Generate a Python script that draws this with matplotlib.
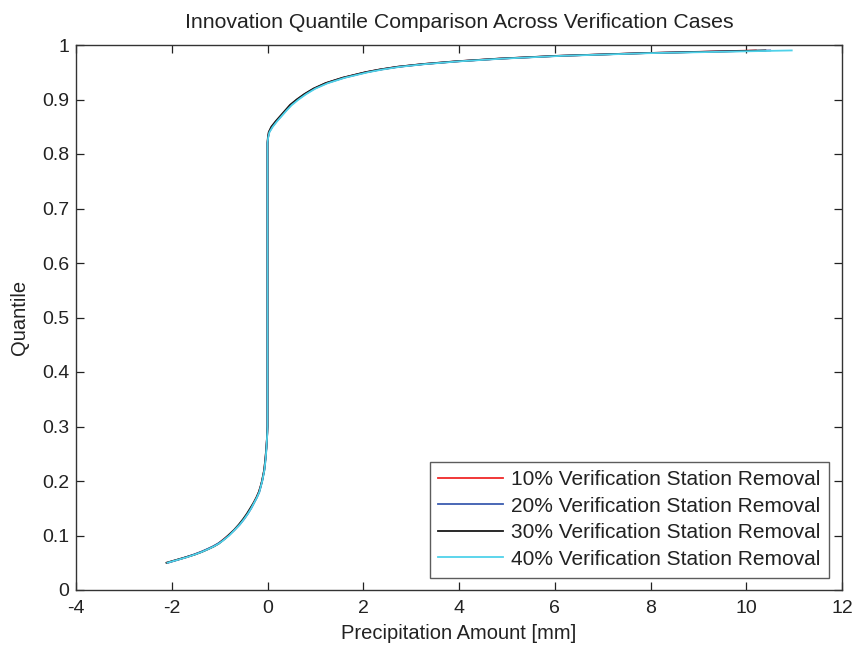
import matplotlib
matplotlib.use("Agg")
import matplotlib.pyplot as plt

plt.rcParams['font.family'] = ['Liberation Sans', 'DejaVu Sans']
plt.rcParams['axes.unicode_minus'] = False

quantiles = [0.05, 0.055, 0.06, 0.065, 0.07, 0.075, 0.08, 0.085, 0.09, 0.095, 0.10,
             0.11, 0.12, 0.13, 0.14, 0.15, 0.16, 0.17, 0.18, 0.19, 0.20, 0.22,
             0.24, 0.26, 0.28, 0.29, 0.30, 0.80, 0.82, 0.83, 0.84, 0.85, 0.86,
             0.87, 0.88, 0.89, 0.90, 0.91, 0.92, 0.93, 0.94, 0.95, 0.955, 0.96,
             0.965, 0.97, 0.975, 0.98, 0.985, 0.99]

x_10 = [-2.10, -1.90, -1.70, -1.53, -1.38, -1.25, -1.13, -1.03, -0.96, -0.89, -0.82,
        -0.70, -0.59, -0.50, -0.42, -0.35, -0.29, -0.23, -0.18, -0.145, -0.115, -0.07,
        -0.045, -0.025, -0.010, -0.004, 0.0, 0.0, 0.0, 0.010, 0.030, 0.09, 0.18,
        0.28, 0.38, 0.48, 0.62, 0.78, 0.97, 1.22, 1.58, 2.05, 2.35, 2.72,
        3.25, 3.95, 4.85, 6.05, 7.80, 10.20]
x_20 = [-2.08, -1.89, -1.71, -1.54, -1.39, -1.26, -1.14, -1.04, -0.95, -0.88, -0.81,
        -0.69, -0.58, -0.49, -0.41, -0.34, -0.28, -0.22, -0.17, -0.140, -0.110, -0.065,
        -0.040, -0.022, -0.009, -0.004, 0.0, 0.0, 0.0, 0.012, 0.035, 0.10, 0.19,
        0.29, 0.39, 0.49, 0.63, 0.79, 0.98, 1.24, 1.60, 2.07, 2.37, 2.74,
        3.28, 3.98, 4.88, 6.08, 7.85, 10.50]
x_30 = [-2.11, -1.91, -1.71, -1.52, -1.37, -1.24, -1.12, -1.02, -0.95, -0.88, -0.82,
        -0.70, -0.60, -0.51, -0.43, -0.36, -0.29, -0.23, -0.18, -0.145, -0.115, -0.07,
        -0.045, -0.025, -0.010, -0.005, 0.0, 0.0, 0.0, 0.008, 0.025, 0.08, 0.17,
        0.27, 0.37, 0.47, 0.61, 0.77, 0.96, 1.21, 1.57, 2.04, 2.34, 2.71,
        3.24, 3.93, 4.83, 6.03, 7.82, 10.40]
x_40 = [-2.09, -1.89, -1.69, -1.52, -1.37, -1.24, -1.12, -1.02, -0.94, -0.87, -0.80,
        -0.69, -0.58, -0.49, -0.41, -0.34, -0.28, -0.22, -0.17, -0.140, -0.110, -0.065,
        -0.040, -0.022, -0.009, -0.003, 0.0, 0.0, 0.0, 0.014, 0.040, 0.11, 0.20,
        0.30, 0.40, 0.51, 0.65, 0.81, 1.00, 1.26, 1.62, 2.10, 2.40, 2.77,
        3.30, 4.00, 4.92, 6.12, 7.95, 10.95]

labels = ['10% Verification Station Removal', '20% Verification Station Removal',
          '30% Verification Station Removal', '40% Verification Station Removal']
colors = ['#f02828', '#3a5cb0', '#181818', '#4fd2ea']
series = [x_10, x_20, x_30, x_40]
widths = [1.3, 1.3, 1.3, 1.3]

fig = plt.figure(figsize=(8.56, 6.45), dpi=100)
ax = fig.add_axes([76/856, 1 - 590/645, (842-76)/856, (590-45)/645])

for xs, c, lab, lw in zip(series, colors, labels, widths):
    ax.plot(xs, quantiles, color=c, lw=lw, label=lab)

ax.set_xlim(-4, 12)
ax.set_ylim(0, 1)
ax.set_xticks(range(-4, 13, 2))
ax.set_yticks([i / 10 for i in range(11)])
ax.set_yticklabels(['0', '0.1', '0.2', '0.3', '0.4', '0.5', '0.6', '0.7', '0.8', '0.9', '1'])
ax.tick_params(direction='in', top=True, right=True, length=6, width=0.9,
               labelsize=14, colors='#222222')
ax.tick_params(axis='x', pad=7)
ax.tick_params(axis='y', pad=5)
for sp in ax.spines.values():
    sp.set_color('#333333')
    sp.set_linewidth(1.0)

ax.set_title('Innovation Quantile Comparison Across Verification Cases',
             fontsize=15.3, color='#222222', pad=12.5)
ax.set_xlabel('Precipitation Amount [mm]', fontsize=14.5, color='#222222', labelpad=5)
ax.set_ylabel('Quantile', fontsize=14.5, color='#222222', labelpad=9)

leg = ax.legend(loc='lower right', fontsize=15, frameon=True, fancybox=False,
                edgecolor='#333333', handlelength=3.1, handletextpad=0.4,
                labelspacing=0.36, borderpad=0.42, borderaxespad=0.6)
leg.get_frame().set_linewidth(1.0)
for t in leg.get_texts():
    t.set_color('#222222')

fig.savefig('out.png', dpi=100)
